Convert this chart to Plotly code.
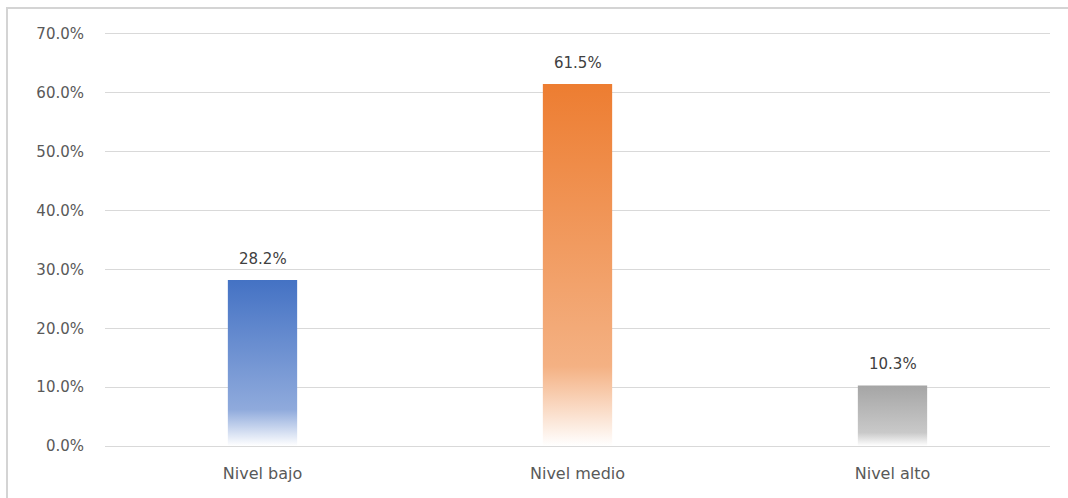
import plotly.graph_objects as go

# Survey levels and their share of respondents (%)
categories = ["Nivel bajo", "Nivel medio", "Nivel alto"]
values = [28.2, 61.5, 10.3]
top_colors = ["#4472C4", "#ED7D31", "#A5A5A5"]
mid_colors = ["#8FAADC", "#F4B183", "#C9C9C9"]
y_ticks = [0, 10, 20, 30, 40, 50, 60, 70]

BAR_WIDTH = 0.22
FONT = "DejaVu Sans"

fig = go.Figure()

# Each bar is a filled outline so it can carry a vertical gradient
for i, (cat, v) in enumerate(zip(categories, values)):
    x0, x1 = i - BAR_WIDTH / 2, i + BAR_WIDTH / 2
    fig.add_trace(go.Scatter(
        x=[x0, x0, x1, x1, x0],
        y=[0, v, v, 0, 0],
        mode="lines",
        line=dict(width=0, color=top_colors[i]),
        fill="toself",
        fillgradient=dict(
            type="vertical",
            start=0,
            stop=v,
            colorscale=[[0, "#FFFFFF"], [0.22, mid_colors[i]], [1, top_colors[i]]],
        ),
        hoverinfo="skip",
        showlegend=False,
        name=cat,
    ))
    fig.add_annotation(
        x=i, y=v, text=f"{v:.1f}%", showarrow=False,
        yanchor="bottom", yshift=10,
        font=dict(family=FONT, size=15, color="#404040"),
    )

fig.update_layout(
    width=1068, height=498,
    margin=dict(l=105, r=18, t=33.5, b=51.5),
    paper_bgcolor="white", plot_bgcolor="white",
    showlegend=False,
    font=dict(family=FONT, size=15, color="#595959"),
    xaxis=dict(
        range=[-0.5, 2.5],
        tickmode="array",
        tickvals=list(range(len(categories))),
        ticktext=categories,
        tickfont=dict(size=16),
        showgrid=False, zeroline=False,
        showline=True, mirror=True, linecolor="#D9D9D9", linewidth=1,
        ticks="", ticklabelstandoff=13,
    ),
    yaxis=dict(
        range=[0, 70],
        tickmode="array",
        tickvals=y_ticks,
        ticktext=[f"{t:.1f}%" for t in y_ticks],
        showgrid=True, gridcolor="#D9D9D9", gridwidth=1,
        zeroline=True, zerolinecolor="#D9D9D9", zerolinewidth=1,
        showline=False, ticks="", ticklabelstandoff=20,
    ),
    shapes=[dict(
        type="rect", xref="paper", yref="paper",
        x0=-0.1037, x1=1.04, y0=-0.2, y1=1.063,
        line=dict(color="#D4D4D4", width=2),
        fillcolor="rgba(0,0,0,0)", layer="above",
    )],
)

fig.write_html("out.html")
